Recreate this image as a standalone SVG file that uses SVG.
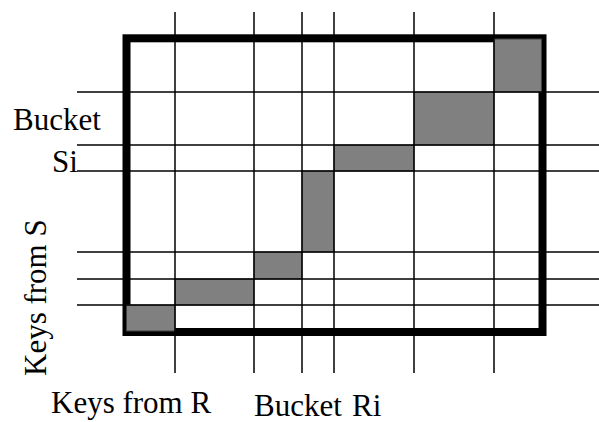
<svg xmlns="http://www.w3.org/2000/svg" width="599" height="422" viewBox="0 0 599 422">
  <style>
    .frame { fill: none; stroke: #000; stroke-width: 8; stroke-linejoin: miter; }
    .cell { fill: #808080; stroke: #404040; stroke-width: 1; }
    .grid { stroke: #000; stroke-width: 1.5; fill: none; }
  </style>
  <rect width="599" height="422" fill="#fff"/>

  <!-- outer join area -->
  <g id="frame">
    <rect class="frame" x="126.5" y="38.3" width="416" height="293.7"/>
  </g>

  <!-- matching bucket pairs along the diagonal -->
  <g id="buckets">
    <rect class="cell" x="126.5" y="305" width="48.5" height="26"/>
    <rect class="cell" x="175" y="279" width="79" height="26"/>
    <rect class="cell" x="254" y="252" width="48" height="27"/>
    <rect class="cell" x="302" y="171" width="32" height="81"/>
    <rect class="cell" x="334" y="145" width="80" height="26"/>
    <rect class="cell" x="414" y="92" width="80" height="53"/>
    <rect class="cell" x="494" y="39" width="47.5" height="53"/>
  </g>

  <!-- bucket boundaries on both key axes -->
  <g id="connectors">
    <line class="grid" x1="175" y1="12" x2="175" y2="373"/>
    <line class="grid" x1="254" y1="12" x2="254" y2="373"/>
    <line class="grid" x1="302" y1="12" x2="302" y2="373"/>
    <line class="grid" x1="334" y1="12" x2="334" y2="373"/>
    <line class="grid" x1="414" y1="12" x2="414" y2="373"/>
    <line class="grid" x1="494" y1="12" x2="494" y2="373"/>
    <line class="grid" x1="77" y1="92" x2="599" y2="92"/>
    <line class="grid" x1="77" y1="145" x2="599" y2="145"/>
    <line class="grid" x1="77" y1="171" x2="599" y2="171"/>
    <line class="grid" x1="77" y1="252" x2="599" y2="252"/>
    <line class="grid" x1="77" y1="279" x2="599" y2="279"/>
    <line class="grid" x1="77" y1="305" x2="599" y2="305"/>
  </g>

  <g id="labels" font-family="'Liberation Serif', 'Times New Roman', 'DejaVu Serif', serif" font-size="31" fill="#000">
    <text x="13" y="130">Bucket</text>
    <text x="52" y="172">Si</text>
    <text transform="translate(46,376) rotate(-90)">Keys from S</text>
    <text x="51" y="413">Keys from R</text>
    <text x="254" y="416">Bucket<tspan x="352">Ri</tspan></text>
  </g>
</svg>
